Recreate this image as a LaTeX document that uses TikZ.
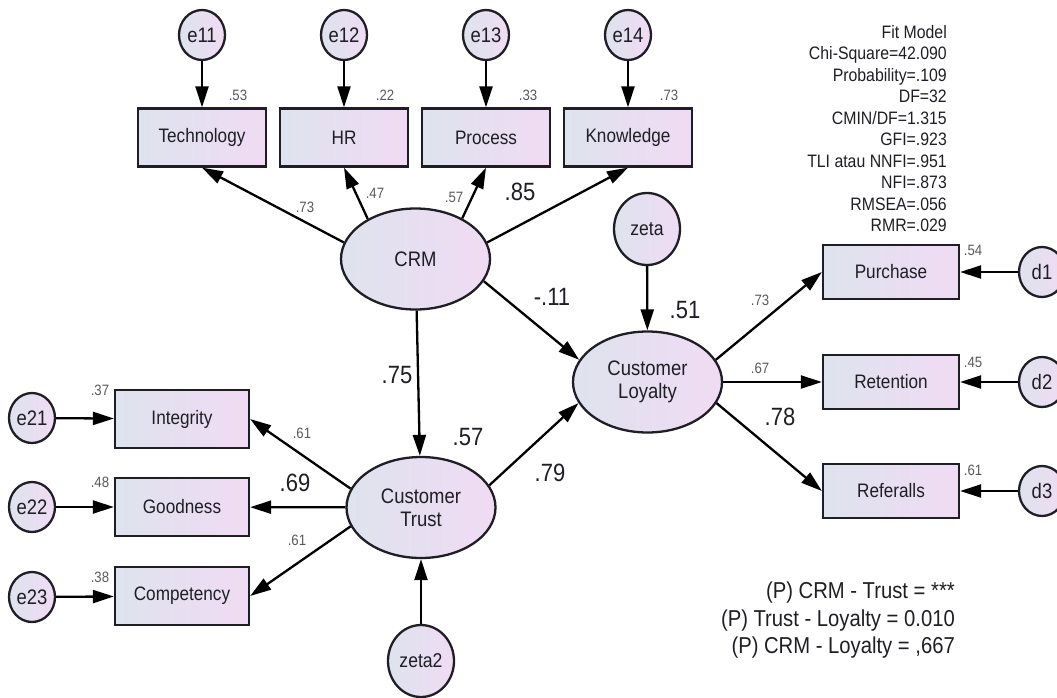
\documentclass[tikz,border=0pt]{standalone}
\usepackage{fontspec}
\setmainfont{Liberation Sans}[FakeStretch=0.88]
\usetikzlibrary{shapes.geometric,arrows.meta}
\definecolor{amosleft}{RGB}{222,227,237}
\definecolor{amosright}{RGB}{240,219,244}
\definecolor{amosink}{RGB}{30,30,36}

\begin{document}
\begin{tikzpicture}[x=1pt,y=-1pt,
    obs/.style={draw=amosink, line width=2.3pt, left color=amosleft, right color=amosright,
      minimum width=128pt, minimum height=58pt, inner sep=0pt, text=amosink,
      font=\fontsize{19.5}{22}\selectfont},
    lat/.style={ellipse, draw=amosink, line width=2.3pt, left color=amosleft, right color=amosright,
      minimum width=149pt, minimum height=101pt, inner sep=0pt, align=center, text=amosink,
      font=\fontsize{21}{23}\selectfont},
    err/.style={ellipse, draw=amosink, line width=2.3pt, left color=amosleft, right color=amosright,
      minimum width=46pt, minimum height=50pt, inner sep=0pt, text=amosink,
      font=\fontsize{21}{21}\selectfont},
    res/.style={err, minimum width=66pt, minimum height=72pt, font=\fontsize{20}{20}\selectfont},
    path/.style={-{Triangle[length=21pt,width=13pt]}, line width=2.3pt, draw=black},
    big/.style={font=\fontsize{25}{25}\selectfont, text=amosink, inner sep=0pt},
    small/.style={font=\fontsize{15}{15}\selectfont, text=black!65, inner sep=0pt},
  ]
  \useasboundingbox (0,0) rectangle (1057,698);

  % CRM indicators
  \node[err] (e11) at (202,35) {e11};
  \node[err] (e12) at (344,35) {e12};
  \node[err] (e13) at (486,35) {e13};
  \node[err] (e14) at (628,35) {e14};
  \node[obs] (tech) at (202,137.5) {Technology};
  \node[obs] (hr)   at (344,137.5) {HR};
  \node[obs] (proc) at (486,137.5) {Process};
  \node[obs] (know) at (628,137.5) {Knowledge};

  % latent variables
  \node[lat] (crm)   at (415.5,259) {CRM};
  \node[lat] (trust) at (421,507.5) {Customer\\Trust};
  \node[lat] (loy)   at (647.5,382) {Customer\\Loyalty};
  \node[res] (zeta)  at (647,229) {zeta};
  \node[res] (zeta2) at (421,661) {zeta2};

  % trust indicators
  \node[err] (e21) at (32,418) {e21};
  \node[err] (e22) at (32,507) {e22};
  \node[err] (e23) at (32,597) {e23};
  \node[obs, minimum width=134pt] (integ) at (182,419) {Integrity};
  \node[obs, minimum width=134pt] (good)  at (182,507) {Goodness};
  \node[obs, minimum width=134pt] (comp)  at (182,596) {Competency};

  % loyalty indicators
  \node[obs, minimum width=136pt, minimum height=54pt] (purch) at (891,272) {Purchase};
  \node[obs, minimum width=136pt, minimum height=54pt] (ret)   at (891,382) {Retention};
  \node[obs, minimum width=136pt, minimum height=54pt] (ref)   at (891,491) {Referalls};
  \node[err] (d1) at (1042,272) {d1};
  \node[err] (d2) at (1042,382) {d2};
  \node[err] (d3) at (1042,491) {d3};

  \draw[path] (e11) -- (tech);
  \draw[path] (e12) -- (hr);
  \draw[path] (e13) -- (proc);
  \draw[path] (e14) -- (know);
  \draw[path] (crm.167) -- (tech.south);
  \draw[path] (crm.140) -- (hr.south);
  \draw[path] (crm.41) -- (proc.south);
  \draw[path] (crm.13) -- (know.south);
  \draw[path] (crm.-18) -- (loy.162);
  \draw[path] (crm) -- (trust);
  \draw[path] (trust.18) -- (loy.197);
  \draw[path] (zeta) -- (loy);
  \draw[path] (zeta2) -- (trust);
  \draw[path] (trust.165) -- (integ.east);
  \draw[path] (trust) -- (good);
  \draw[path] (trust.195) -- (comp.east);
  \draw[path] (e21) -- (integ);
  \draw[path] (e22) -- (good);
  \draw[path] (e23) -- (comp);
  \draw[path] (loy.18) -- (purch.west);
  \draw[path] (loy) -- (ret);
  \draw[path] (loy.-17) -- (ref.west);
  \draw[path] (d1) -- (purch);
  \draw[path] (d2) -- (ret);
  \draw[path] (d3) -- (ref);

  % estimates
  \node[small] (r53) at (238,95) {.53};
  \node[small] (r22) at (385,95) {.22};
  \node[small] (r33) at (528,95) {.33};
  \node[small] (r73) at (669,95) {.73};
  \node[small] (w73) at (305,207) {.73};
  \node[small] (w47) at (375,193) {.47};
  \node[small] (w57) at (454,197) {.57};
  \node[big]   (w85) at (520,192) {.85};
  \node[big]   (b11) at (552,297) {-.11};
  \node[big]   (r51) at (685,310) {.51};
  \node[big]   (b75) at (397,375) {.75};
  \node[big]   (r57) at (468,437) {.57};
  \node[big]   (b79) at (550,473) {.79};
  \node[small] (v73) at (760,300) {.73};
  \node[small] (v67) at (760,368) {.67};
  \node[big]   (v78) at (780,417) {.78};
  \node[small] (r54) at (973,250) {.54};
  \node[small] (r45) at (973,362) {.45};
  \node[small] (r61) at (973,470) {.61};
  \node[small] (r37) at (100,390) {.37};
  \node[small] (r48) at (100,482) {.48};
  \node[small] (r38) at (100,577) {.38};
  \node[small] (t61) at (302,433) {.61};
  \node[big]   (t69) at (295,483) {.69};
  \node[small] (c61) at (297,540) {.61};

  \node[anchor=north east, align=right, inner sep=0pt, text=amosink,
    font=\fontsize{18}{21.5}\selectfont] (fit) at (947,25.1)
    {Fit Model\\Chi-Square=42.090\\Probability=.109\\DF=32\\CMIN/DF=1.315\\GFI=.923\\
     TLI atau NNFI=.951\\NFI=.873\\RMSEA=.056\\RMR=.029};
  \node[anchor=north east, align=right, inner sep=0pt, text=amosink,
    font=\fontsize{23}{27.5}\selectfont] (pval) at (955,582)
    {(P) CRM - Trust = ***\\(P) Trust - Loyalty = 0.010\\(P) CRM - Loyalty = ,667};
\end{tikzpicture}
\end{document}
